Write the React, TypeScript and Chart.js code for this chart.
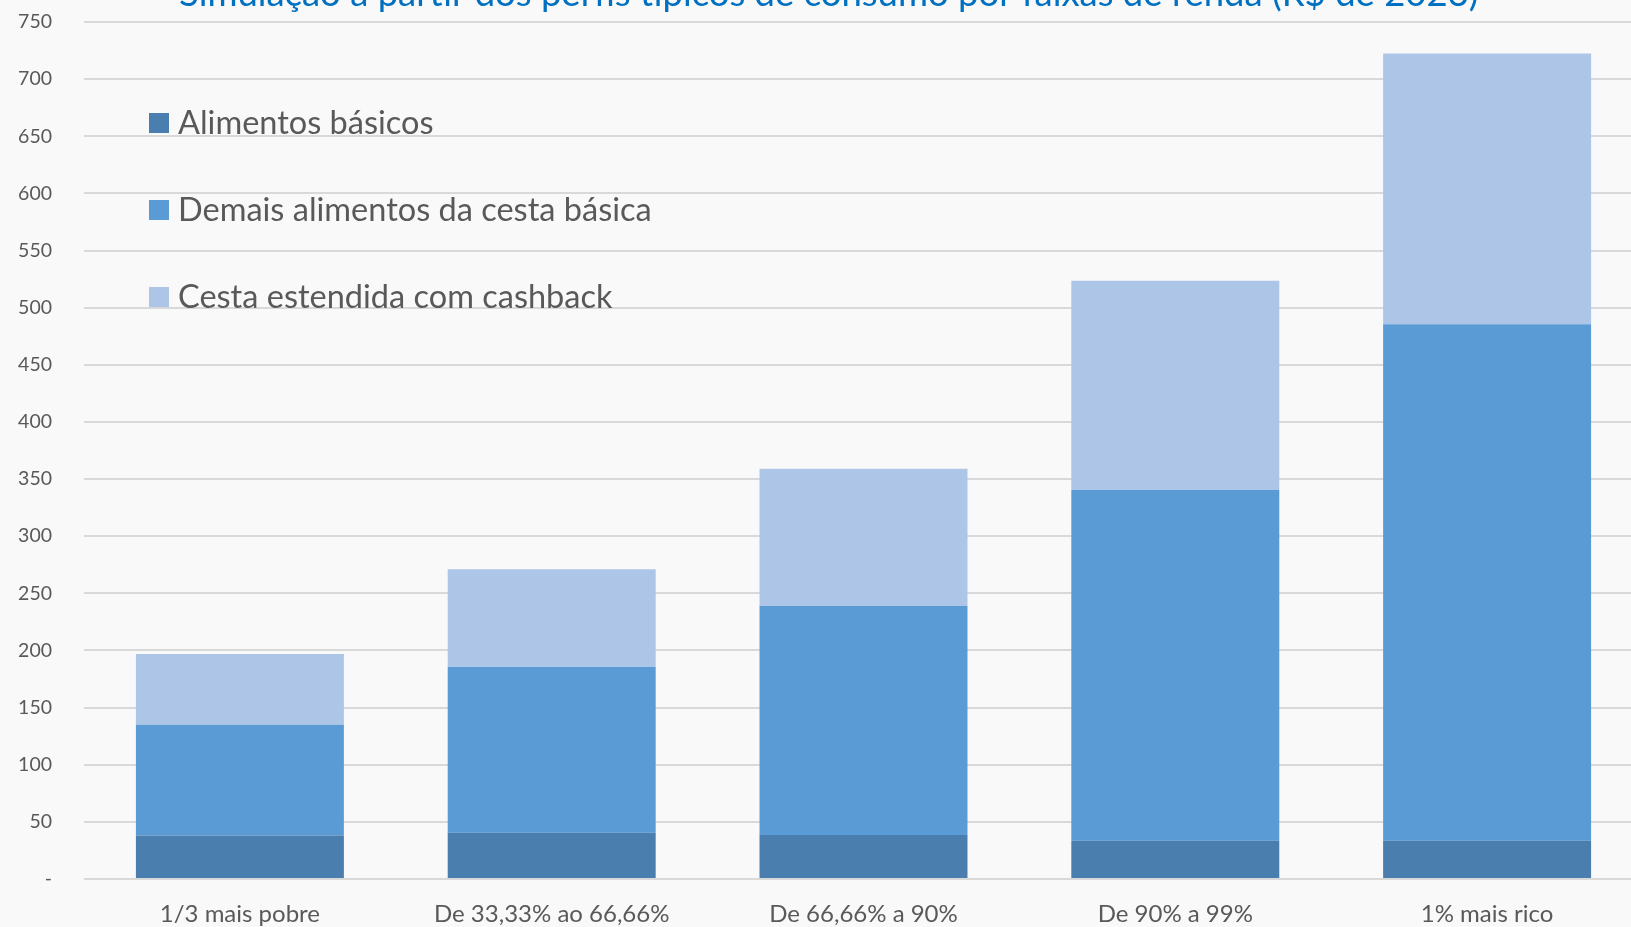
import React, { useEffect, useRef } from "react";
import { Chart, registerables } from "chart.js";
Chart.register(...registerables);

const categories = [
  "1/3 mais pobre",
  "De 33,33% ao 66,66%",
  "De 66,66% a 90%",
  "De 90% a 99%",
  "1% mais rico",
];
const alimentosBasicos = [38, 40.5, 38.5, 33.5, 33.5];
const demaisAlimentos = [97, 145, 200.5, 307, 452];
const cestaEstendida = [62, 85.5, 120, 183, 237];
const seriesLabels = [
  "Alimentos básicos",
  "Demais alimentos da cesta básica",
  "Cesta estendida com cashback",
];
const seriesColors = ["#4A7EAF", "#5B9BD5", "#ADC5E6"];
const yMax = 750;
const yStep = 50;
const titleText =
  "Simulação a partir dos perfis típicos de consumo por faixas de renda (R$ de 2023)";

const FONT = "Lato";

const overlayPlugin = {
  id: "overlay",
  afterDraw(chart: any) {
    const ctx = chart.ctx;
    ctx.save();
    ctx.fillStyle = "#0070C0";
    ctx.font = `36.5px ${FONT}`;
    ctx.textAlign = "left";
    ctx.textBaseline = "alphabetic";
    ctx.fillText(titleText, 179, 6);
    const rows = [123, 210, 297];
    chart.data.datasets.forEach((ds: any, i: number) => {
      const cy = rows[i];
      ctx.fillStyle = ds.backgroundColor;
      ctx.fillRect(149, cy - 10, 20, 20);
      ctx.fillStyle = "#595959";
      ctx.font = `32.5px ${FONT}`;
      ctx.textBaseline = "middle";
      ctx.fillText(ds.label, 178, cy + 1);
    });
    ctx.restore();
  },
};

export default function App() {
  const ref = useRef<HTMLCanvasElement>(null);
  useEffect(() => {
    document.body.style.margin = "0";
    const chart = new Chart(ref.current!, {
      type: "bar",
      data: {
        labels: categories,
        datasets: [
          { label: seriesLabels[0], data: alimentosBasicos, backgroundColor: seriesColors[0] },
          { label: seriesLabels[1], data: demaisAlimentos, backgroundColor: seriesColors[1] },
          { label: seriesLabels[2], data: cestaEstendida, backgroundColor: seriesColors[2] },
        ].map((d) => ({ ...d, barPercentage: 0.667, categoryPercentage: 1, borderWidth: 0 })),
      },
      options: {
        animation: false,
        responsive: false,
        devicePixelRatio: 1,
        layout: { padding: { top: 0, right: 17, left: 0, bottom: 0 } },
        plugins: { legend: { display: false }, tooltip: { enabled: false }, title: { display: false } },
        scales: {
          x: {
            stacked: true,
            grid: { display: false },
            border: { display: false },
            ticks: { font: { family: FONT, size: 24 }, color: "#595959", padding: 13, maxRotation: 0 },
            afterFit: (s: any) => {
              s.height = 48;
            },
          },
          y: {
            stacked: true,
            min: 0,
            max: yMax,
            border: { display: false },
            grid: { color: "#d9d9d9", lineWidth: 2, drawTicks: false },
            ticks: {
              stepSize: yStep,
              font: { family: FONT, size: 19.5 },
              color: "#595959",
              padding: 32,
              callback: (v: any) => (v === 0 ? "-" : String(v)),
            },
            afterFit: (s: any) => {
              s.width = 84;
              s.paddingTop = 22;
              s.paddingBottom = 0;
            },
          },
        },
      },
      plugins: [overlayPlugin],
    });
    return () => chart.destroy();
  }, []);
  return (
    <div
      style={{
        position: "fixed",
        left: 0,
        top: 0,
        width: 1631,
        height: 927,
        overflow: "hidden",
        background: "#f9f9f9",
      }}
    >
      <canvas ref={ref} width={1660} height={927} style={{ display: "block" }} />
    </div>
  );
}
